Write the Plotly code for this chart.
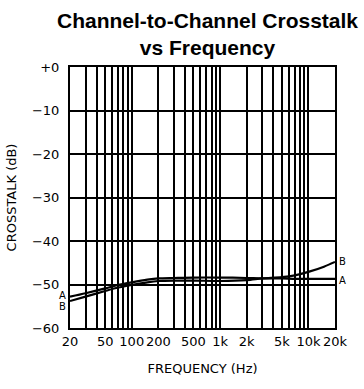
import plotly.graph_objects as go

freq = [20, 30, 50, 70, 100, 150, 200, 300, 500, 1000, 2000, 3000, 5000, 7000, 10000, 15000, 20000]
crosstalk_a = [-52.8, -52.0, -50.9, -50.1, -49.5, -48.9, -48.6, -48.5, -48.4, -48.4, -48.5, -48.6, -48.6, -48.7, -48.7, -48.7, -48.7]
crosstalk_b = [-53.8, -52.8, -51.5, -50.7, -50.1, -49.5, -49.2, -49.1, -49.1, -49.2, -49.0, -48.6, -48.3, -47.9, -47.1, -45.9, -44.8]

x_tickvals = [20, 50, 100, 200, 500, 1000, 2000, 5000, 10000, 20000]
x_ticktext = ["20", "50", "100", "200", "500", "1k", "2k", "5k", "10k", "20k"]
x_minor = [30, 40, 60, 70, 80, 90, 300, 400, 600, 700, 800, 900,
           3000, 4000, 6000, 7000, 8000, 9000]
y_tickvals = [0, -10, -20, -30, -40, -50, -60]
y_ticktext = ["+0", "−10", "−20", "−30", "−40", "−50", "−60"]

label_left = [("A", -52.6), ("B", -55.0)]
label_right = [("B", -44.6), ("A", -49.0)]

tick_font = dict(family="DejaVu Sans", size=13, color="black")

fig = go.Figure()
for y in (crosstalk_a, crosstalk_b):
    fig.add_trace(go.Scatter(x=freq, y=y, mode="lines",
                             line=dict(color="black", width=2.2, shape="spline", smoothing=0.8),
                             showlegend=False, hoverinfo="skip"))

for txt, yv in label_left:
    fig.add_annotation(x=-0.027, xref="paper", y=yv, yref="y", text=txt, showarrow=False,
                       font=dict(family="DejaVu Sans", size=10, color="black"), xanchor="center")
for txt, yv in label_right:
    fig.add_annotation(x=1.03, xref="paper", y=yv, yref="y", text=txt, showarrow=False,
                       font=dict(family="DejaVu Sans", size=10, color="black"), xanchor="center")

# chart title (multi-line, anchored above the plot area)
fig.add_annotation(x=0.519, xref="paper", y=1, yref="paper", yanchor="bottom", xanchor="center",
                   yshift=6, showarrow=False,
                   text="<b>Channel-to-Channel Crosstalk<br>vs Frequency</b>",
                   font=dict(family="Liberation Sans", size=21, color="black"))

fig.update_layout(
    width=364, height=389,
    margin=dict(l=70, r=29, t=67, b=61),
    paper_bgcolor="white", plot_bgcolor="white",
    xaxis=dict(type="log", range=[1.30103, 4.30103],
               tickvals=x_tickvals, ticktext=x_ticktext, tickfont=tick_font, tickangle=0,
               showgrid=True, gridcolor="black", gridwidth=1.5,
               minor=dict(tickvals=x_minor, showgrid=True, gridcolor="black", gridwidth=1.5, ticks=""),
               showline=True, linecolor="black", linewidth=2, mirror=True,
               ticks="", zeroline=False, automargin=False,
               title=dict(text="FREQUENCY (Hz)", font=tick_font, standoff=16)),
    yaxis=dict(range=[-60, 0], tickvals=y_tickvals, ticktext=y_ticktext, tickfont=tick_font,
               showgrid=True, gridcolor="black", gridwidth=1.5,
               showline=True, linecolor="black", linewidth=2, mirror=True,
               ticks="", zeroline=False, automargin=False, ticklabelstandoff=6,
               title=dict(text="CROSSTALK (dB)", font=tick_font, standoff=12)),
)

fig.write_html("out.html", config={"displayModeBar": False},
               post_script="document.body.style.margin='0';")
